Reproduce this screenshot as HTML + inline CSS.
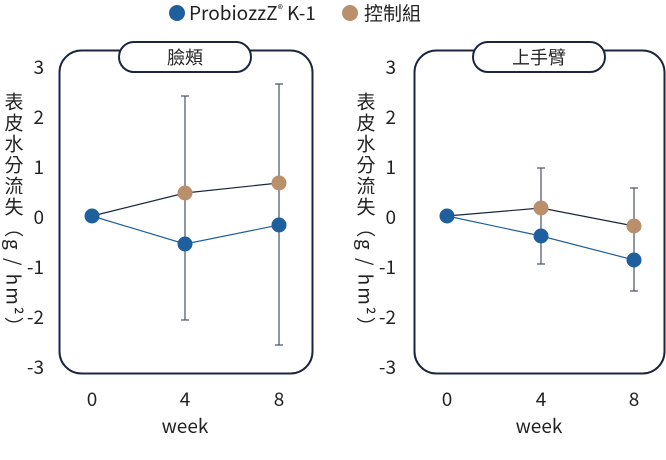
<!DOCTYPE html><html><head><style>body{margin:0;background:#fff}svg text{font-family:"Noto Sans CJK TC","Liberation Sans",sans-serif;fill:#222}</style></head><body>
<svg width="666" height="455" viewBox="0 0 666 455" xmlns="http://www.w3.org/2000/svg">
<circle cx="177" cy="13" r="8" fill="#1f5f9e"/><text x="189" y="20" font-size="19">ProbiozzZ<tspan font-size="11" dy="-7">®</tspan><tspan dy="7"> K-1</tspan></text>
<circle cx="350" cy="13" r="8" fill="#b98f6c"/><text x="364" y="20" font-size="19">控制組</text>
<g>
<rect x="59.5" y="50.5" width="253" height="323" rx="22" fill="none" stroke="#1c2540" stroke-width="2"/>
<rect x="119" y="42" width="132" height="30" rx="15" fill="#fff" stroke="#1c2540" stroke-width="2"/>
<text x="185" y="64" font-size="18" text-anchor="middle">臉頰</text>
<g font-size="19" text-anchor="end"><text x="44" y="74">3</text><text x="44" y="124">2</text><text x="44" y="174">1</text><text x="44" y="224">0</text><text x="44" y="274">-1</text><text x="44" y="324">-2</text><text x="44" y="374">-3</text></g>
<g font-size="19" text-anchor="middle"><text x="92" y="406">0</text><text x="185" y="406">4</text><text x="279" y="406">8</text><text x="185" y="433">week</text></g>
<text x="14" y="92" font-size="19" style="writing-mode:vertical-rl" letter-spacing="2">表皮水分流失（g / hm²）</text>
<g stroke="#4a5064" stroke-width="1.2"><line x1="185" y1="96" x2="185" y2="320"/><line x1="181" y1="96" x2="189" y2="96"/><line x1="181" y1="320" x2="189" y2="320"/><line x1="279" y1="84" x2="279" y2="345"/><line x1="275" y1="84" x2="283" y2="84"/><line x1="275" y1="345" x2="283" y2="345"/></g>
<polyline points="92,216 185,193 279,183" fill="none" stroke="#1c2540" stroke-width="1.2"/>
<polyline points="92,216 185,244 279,225" fill="none" stroke="#1f5f9e" stroke-width="1.2"/>
<g fill="#b98f6c"><circle cx="185" cy="193" r="7.5"/><circle cx="279" cy="183" r="7.5"/></g>
<g fill="#1f5f9e"><circle cx="92" cy="216" r="7.5"/><circle cx="185" cy="244" r="7.5"/><circle cx="279" cy="225" r="7.5"/></g>
</g>
<g>
<rect x="414.5" y="50.5" width="250" height="323" rx="22" fill="none" stroke="#1c2540" stroke-width="2"/>
<rect x="473" y="42" width="132" height="30" rx="15" fill="#fff" stroke="#1c2540" stroke-width="2"/>
<text x="539" y="64" font-size="18" text-anchor="middle">上手臂</text>
<g font-size="19" text-anchor="end"><text x="396" y="74">3</text><text x="396" y="124">2</text><text x="396" y="174">1</text><text x="396" y="224">0</text><text x="396" y="274">-1</text><text x="396" y="324">-2</text><text x="396" y="374">-3</text></g>
<g font-size="19" text-anchor="middle"><text x="447" y="406">0</text><text x="541" y="406">4</text><text x="634" y="406">8</text><text x="539" y="433">week</text></g>
<text x="366" y="92" font-size="19" style="writing-mode:vertical-rl" letter-spacing="2">表皮水分流失（g / hm²）</text>
<g stroke="#4a5064" stroke-width="1.2"><line x1="541" y1="168" x2="541" y2="264"/><line x1="537" y1="168" x2="545" y2="168"/><line x1="537" y1="264" x2="545" y2="264"/><line x1="634" y1="188" x2="634" y2="291"/><line x1="630" y1="188" x2="638" y2="188"/><line x1="630" y1="291" x2="638" y2="291"/></g>
<polyline points="447,216 541,208 634,226" fill="none" stroke="#1c2540" stroke-width="1.2"/>
<polyline points="447,216 541,236 634,260" fill="none" stroke="#1f5f9e" stroke-width="1.2"/>
<g fill="#b98f6c"><circle cx="541" cy="208" r="7.5"/><circle cx="634" cy="226" r="7.5"/></g>
<g fill="#1f5f9e"><circle cx="447" cy="216" r="7.5"/><circle cx="541" cy="236" r="7.5"/><circle cx="634" cy="260" r="7.5"/></g>
</g>
</svg></body></html>
